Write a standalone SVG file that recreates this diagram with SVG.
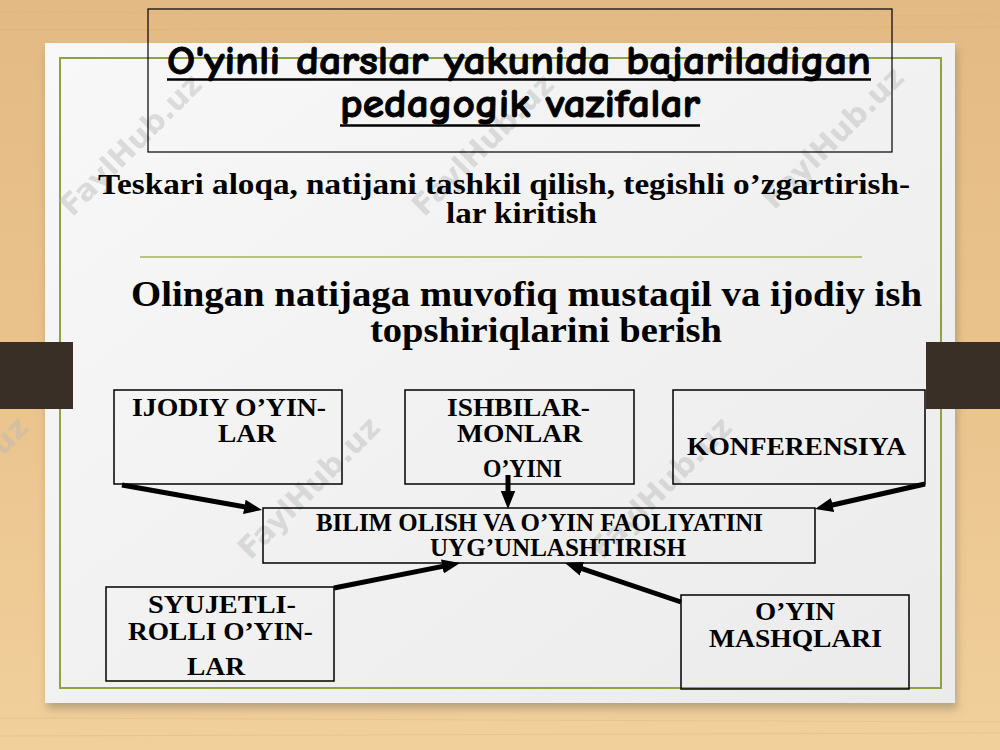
<svg xmlns="http://www.w3.org/2000/svg" width="1000" height="750" viewBox="0 0 1000 750">
  <defs>
    <linearGradient id="wood" x1="0" y1="0" x2="0" y2="1">
      <stop offset="0" stop-color="#E4BA84"/>
      <stop offset="0.5" stop-color="#EAC38C"/>
      <stop offset="1" stop-color="#F1D09C"/>
    </linearGradient>
    <linearGradient id="paper" x1="0" y1="0" x2="1" y2="1">
      <stop offset="0" stop-color="#F8F8F8"/>
      <stop offset="1" stop-color="#EBEBEB"/>
    </linearGradient>
    <filter id="shadow" x="-5%" y="-5%" width="110%" height="115%">
      <feGaussianBlur stdDeviation="4"/>
    </filter>
    <marker id="arrow" viewBox="0 0 10 8" markerWidth="3.6" markerHeight="2.9" refX="4.44" refY="4" orient="auto" markerUnits="strokeWidth">
      <path d="M0,0 L10,4 L0,8 Z" fill="#000"/>
    </marker>
    <style>
      .title { font-family: "Comic Sans MS", "Comic Neue", "DejaVu Sans", sans-serif; font-weight: bold; font-size: 40px; fill: #000; stroke: #000; stroke-width: 0.9; }
      .sub { font-family: "Liberation Serif", "Times New Roman", serif; font-weight: bold; font-size: 30px; fill: #000; }
      .big { font-family: "Liberation Serif", "Times New Roman", serif; font-weight: bold; font-size: 35px; fill: #000; }
      .lbl { font-family: "Liberation Serif", "Times New Roman", serif; font-weight: bold; font-size: 26px; fill: #000; }
      .box { fill: none; stroke: #000; stroke-width: 1.5; }
      .wm { font-family: "DejaVu Sans", "Liberation Sans", sans-serif; font-weight: bold; font-size: 30px; fill: #B8B8B8; fill-opacity: 0.45; }
      .conn { stroke: #000; stroke-width: 5; fill: none; marker-end: url(#arrow); }
      .tab { fill: #3A2F27; }
    </style>
  </defs>

  <!-- background -->
  <rect x="0" y="0" width="1000" height="750" fill="url(#wood)"/>
  <g stroke="#D9AE75" stroke-opacity="0.35" stroke-width="1">
    <line x1="0" y1="12" x2="1000" y2="16"/>
    <line x1="0" y1="30" x2="1000" y2="27"/>
    <line x1="0" y1="718" x2="1000" y2="722"/>
    <line x1="0" y1="736" x2="1000" y2="733"/>
  </g>

  <!-- paper -->
  <rect x="47" y="49" width="910" height="660" fill="#7A6A55" fill-opacity="0.45" filter="url(#shadow)"/>
  <rect x="45" y="43" width="910" height="660" fill="url(#paper)"/>
  <rect x="60" y="58" width="881" height="630" fill="none" stroke="#8EA23E" stroke-width="2"/>
  <line x1="140" y1="257" x2="862" y2="257" stroke="#A3B35E" stroke-width="1.5"/>

  <!-- tabs -->
  <rect class="tab" x="0" y="342" width="73" height="67"/>
  <rect class="tab" x="926" y="342" width="74" height="67"/>

  <!-- watermarks -->
  <g id="watermarks">
    <text class="wm" text-anchor="middle" transform="translate(138,152) rotate(-45)">FaylHub.uz</text>
    <text class="wm" text-anchor="middle" transform="translate(490,152) rotate(-45)">FaylHub.uz</text>
    <text class="wm" text-anchor="middle" transform="translate(840,145) rotate(-45)">FaylHub.uz</text>
    <text class="wm" text-anchor="middle" transform="translate(-36,495) rotate(-45)">FaylHub.uz</text>
    <text class="wm" text-anchor="middle" transform="translate(316,495) rotate(-45)">FaylHub.uz</text>
    <text class="wm" text-anchor="middle" transform="translate(668,495) rotate(-45)">FaylHub.uz</text>
  </g>

  <!-- title -->
  <g id="title">
    <rect x="148" y="9" width="744" height="143" fill="none" stroke="#000" stroke-width="1.2"/>
    <text class="title" x="167" y="74" textLength="704" lengthAdjust="spacingAndGlyphs">O'yinli darslar yakunida bajariladigan</text>
    <line x1="167" y1="79.5" x2="871" y2="79.5" stroke="#000" stroke-width="2.5"/>
    <text class="title" x="340" y="117" textLength="360" lengthAdjust="spacingAndGlyphs">pedagogik vazifalar</text>
    <line x1="340" y1="125.5" x2="700" y2="125.5" stroke="#000" stroke-width="2.5"/>
  </g>

  <g id="subtitle">
    <text class="sub" x="98" y="194" textLength="812" lengthAdjust="spacingAndGlyphs">Teskari aloqa, natijani tashkil qilish, tegishli o’zgartirish-</text>
    <text class="sub" x="446" y="223" textLength="151" lengthAdjust="spacingAndGlyphs">lar kiritish</text>
  </g>

  <g id="heading">
    <text class="big" x="131" y="306" textLength="791" lengthAdjust="spacingAndGlyphs">Olingan natijaga muvofiq mustaqil va ijodiy ish</text>
    <text class="big" x="370" y="342" textLength="352" lengthAdjust="spacingAndGlyphs">topshiriqlarini berish</text>
  </g>

  <!-- connectors -->
  <g id="connectors">
    <line class="conn" x1="122" y1="485" x2="252.2" y2="508.2"/>
    <line class="conn" x1="508" y1="475" x2="508" y2="499"/>
    <line class="conn" x1="925" y1="484" x2="824.8" y2="506.8"/>
    <line class="conn" x1="334" y1="588" x2="450.2" y2="564.9"/>
    <line class="conn" x1="681" y1="602" x2="574.5" y2="566.2"/>
  </g>

  <!-- nodes -->
  <g id="node-ijodiy">
    <rect class="box" x="114" y="390" width="228" height="94"/>
    <text class="lbl" x="132" y="416" textLength="194" lengthAdjust="spacingAndGlyphs">IJODIY O’YIN-</text>
    <text class="lbl" x="218" y="442" textLength="58" lengthAdjust="spacingAndGlyphs">LAR</text>
  </g>

  <g id="node-ishbilarmonlar">
    <rect class="box" x="405" y="390" width="229" height="94"/>
    <text class="lbl" x="447" y="416" textLength="143" lengthAdjust="spacingAndGlyphs">ISHBILAR-</text>
    <text class="lbl" x="457" y="442" textLength="125" lengthAdjust="spacingAndGlyphs">MONLAR</text>
    <text class="lbl" x="483" y="477" textLength="79" lengthAdjust="spacingAndGlyphs">O’YINI</text>
  </g>

  <g id="node-konferensiya">
    <rect class="box" x="673" y="390" width="252" height="94"/>
    <text class="lbl" x="687" y="455" textLength="219" lengthAdjust="spacingAndGlyphs">KONFERENSIYA</text>
  </g>

  <g id="node-center">
    <rect class="box" x="263" y="508" width="552" height="55"/>
    <text class="lbl" x="316" y="531" textLength="447" lengthAdjust="spacingAndGlyphs">BILIM OLISH VA O’YIN FAOLIYATINI</text>
    <text class="lbl" x="430" y="556" textLength="256" lengthAdjust="spacingAndGlyphs">UYG’UNLASHTIRISH</text>
  </g>

  <g id="node-syujetli">
    <rect class="box" x="106" y="587" width="228" height="94"/>
    <text class="lbl" x="148" y="613" textLength="148" lengthAdjust="spacingAndGlyphs">SYUJETLI-</text>
    <text class="lbl" x="128" y="640" textLength="185" lengthAdjust="spacingAndGlyphs">ROLLI O’YIN-</text>
    <text class="lbl" x="187" y="675" textLength="58" lengthAdjust="spacingAndGlyphs">LAR</text>
  </g>

  <g id="node-mashqlar">
    <rect class="box" x="681" y="595" width="228" height="94"/>
    <text class="lbl" x="755" y="620" textLength="80" lengthAdjust="spacingAndGlyphs">O’YIN</text>
    <text class="lbl" x="709" y="647" textLength="173" lengthAdjust="spacingAndGlyphs">MASHQLARI</text>
  </g>
</svg>
